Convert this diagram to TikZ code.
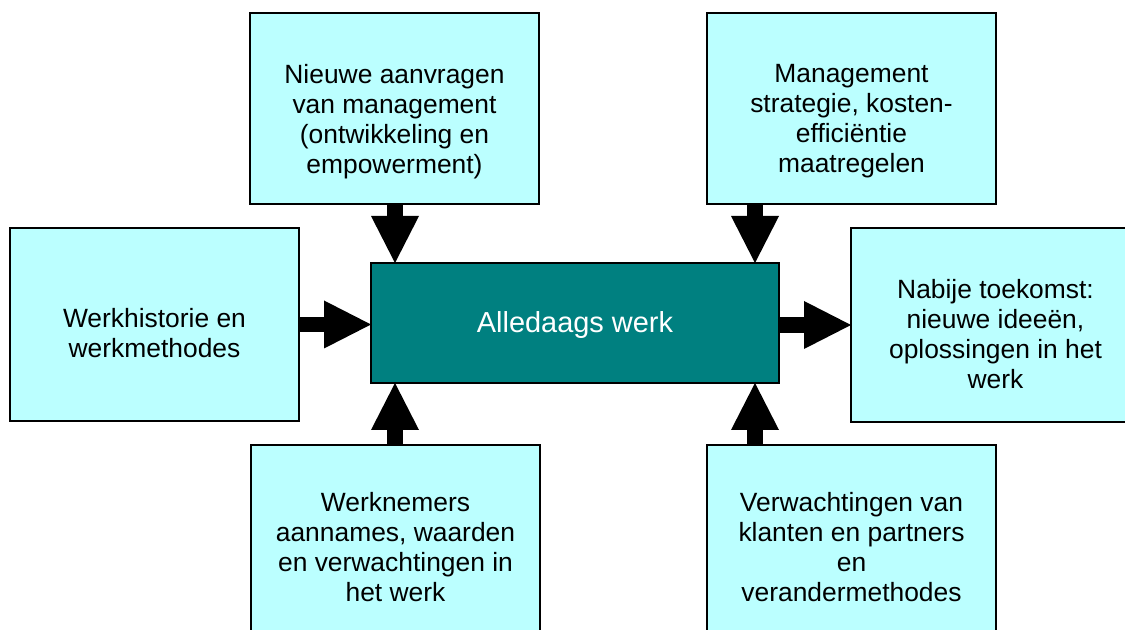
\documentclass[tikz,border=0pt]{standalone}
\usepackage{fontspec}
\setmainfont{Liberation Sans}
\usetikzlibrary{arrows.meta,calc}
\definecolor{boxcyan}{RGB}{187,255,255}
\definecolor{coreteal}{RGB}{0,128,128}
\tikzset{
  sidebox/.style={draw=black, line width=1.4pt, fill=boxcyan, inner sep=0pt, outer sep=0pt,
    minimum width=216.75pt},
  sidetext/.style={inner sep=0pt, align=center, text=black,
    font=\fontsize{19.8}{22.5}\selectfont},
  corebox/.style={draw=black, line width=1.4pt, fill=coreteal, inner sep=0pt, outer sep=0pt,
    minimum width=306pt, minimum height=90pt},
  coretext/.style={inner sep=0pt, align=center, text=white,
    font=\fontsize{21.7}{24.5}\selectfont},
  bigarrow/.style={line width=11.6pt, -{Triangle[length=35.25pt,width=36pt,line width=0pt]}}
}
\begin{document}
\begin{tikzpicture}[x=0.75pt,y=-0.75pt]
\useasboundingbox (0,0) rectangle (1125,630);
\clip (0,0) rectangle (1125,630);
\fill[white] (0,0) rectangle (1125,630);

\node[corebox] (c) at (575,323) {};
\node[sidebox, minimum height=143.25pt] (tl) at (394.5,108.5) {};
\node[sidebox, minimum height=143.25pt] (tr) at (851.5,108.5) {};
\node[sidebox, minimum height=144.75pt] (lb) at (154.5,324.5) {};
\node[sidebox, minimum height=145.5pt] (rb) at (995.5,325) {};
\node[sidebox, minimum height=151.5pt] (bl) at (395.5,546) {};
\node[sidebox, minimum height=151.5pt] (br) at (851.5,546) {};

\node[coretext] (ct) at ($(c)+(0,2)$) {Alledaags werk};
\node[sidetext] (tlt) at ($(tl)+(0,13)$)
  {Nieuwe aanvragen\\van management\\(ontwikkeling en\\empowerment)};
\node[sidetext] (trt) at ($(tr)+(0,13)$)
  {Management\\strategie, kosten-\\efficiëntie\\maatregelen};
\node[sidetext] (lbt) at ($(lb)+(0,9)$)
  {Werkhistorie en\\werkmethodes};
\node[sidetext] (rbt) at ($(rb)+(0,9)$)
  {Nabije toekomst:\\nieuwe ideeën,\\oplossingen in het\\werk};
\node[sidetext] (blt) at ($(bl)+(0,1)$)
  {Werknemers\\aannames, waarden\\en verwachtingen in\\het werk};
\node[sidetext] (brt) at ($(br)+(0,1)$)
  {Verwachtingen van\\klanten en partners\\en\\verandermethodes};

\coordinate (cnl) at ($(c.north west)+(24,0)$);
\coordinate (cnr) at ($(c.north east)+(-24,0)$);
\coordinate (csl) at ($(c.south west)+(24,0)$);
\coordinate (csr) at ($(c.south east)+(-24,0)$);

\draw[bigarrow] (cnl |- tl.south) -- (cnl);
\draw[bigarrow] (cnr |- tr.south) -- (cnr);
\draw[bigarrow] (csl |- bl.north) -- (csl);
\draw[bigarrow] (csr |- br.north) -- (csr);
\draw[bigarrow] (lb.east) -- (lb.east -| c.west);
\draw[bigarrow] (c.east |- rb.west) -- (rb.west);
\end{tikzpicture}
\end{document}
